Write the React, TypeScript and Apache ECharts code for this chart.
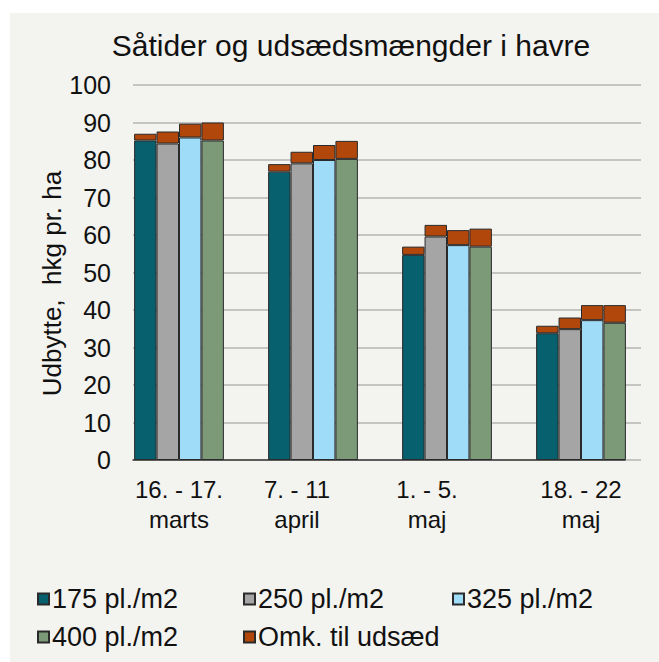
import React, { useEffect, useRef } from "react";
import * as echarts from "echarts";

const categories = ["16. - 17.\nmarts", "7. - 11\napril", "1. - 5.\nmaj", "18. - 22\nmaj"];
const seriesNames = ["175 pl./m2", "250 pl./m2", "325 pl./m2", "400 pl./m2"];
const costName = "Omk. til udsæd";
const yield175 = [85.2, 76.9, 54.7, 33.8];
const yield250 = [84.4, 79.1, 59.6, 34.9];
const yield325 = [86.0, 80.0, 57.3, 37.3];
const yield400 = [85.2, 80.3, 56.9, 36.6];
const cost175 = [1.8, 2.0, 2.2, 2.0];
const cost250 = [3.2, 3.1, 3.1, 3.1];
const cost325 = [3.7, 4.0, 4.0, 4.0];
const cost400 = [4.8, 4.8, 4.8, 4.7];
const yTicks = [0, 100, 10];

const FONT = "'Liberation Sans', Arial, sans-serif";
const colors = ["#07606e", "#a5a5a5", "#9fdcf7", "#7c9a78"];
const costColor = "#b2470c";
const labelShift = [0, 16, 20, 0];
const legendSlots = [
  { left: 37, top: 585 },
  { left: 243, top: 585 },
  { left: 452, top: 585 },
  { left: 37, top: 623 },
  { left: 243, top: 623 },
];

export default function App() {
  const ref = useRef<HTMLDivElement>(null);
  useEffect(() => {
    if (!ref.current) return;
    const chart = echarts.init(ref.current, null, { renderer: "svg" });
    const yields = [yield175, yield250, yield325, yield400];
    const costs = [cost175, cost250, cost325, cost400];
    const series: any[] = [];
    yields.forEach((vals, i) => {
      series.push({
        type: "bar",
        name: seriesNames[i],
        stack: "s" + i,
        xAxisIndex: 0,
        yAxisIndex: 0,
        data: vals,
        barGap: "0%",
        barCategoryGap: "33%",
        itemStyle: { color: colors[i], borderColor: "#2a2a2a", borderWidth: 1 },
      });
      series.push({
        type: "bar",
        name: costName,
        stack: "s" + i,
        xAxisIndex: 0,
        yAxisIndex: 0,
        data: costs[i],
        barGap: "0%",
        barCategoryGap: "33%",
        itemStyle: { color: costColor, borderColor: "#2a2a2a", borderWidth: 1 },
      });
    });
    const rich: any = {};
    labelShift.forEach((s, i) => {
      rich["s" + i] = {
        fontFamily: FONT,
        fontSize: 24,
        color: "#111",
        lineHeight: 30,
        padding: [0, s * 2, 0, 0],
      };
    });
    const legendNames = [...seriesNames, costName];
    const legends = legendNames.map((n, i) => ({
      data: [n],
      left: legendSlots[i].left,
      top: legendSlots[i].top,
      padding: 0,
      itemWidth: 11,
      itemHeight: 11,
      itemGap: 4,
      icon: "rect",
      textStyle: { fontFamily: FONT, fontSize: 27, lineHeight: 28, color: "#111", padding: [0, 0, 0, -2] },
    }));
    const option: any = {
      animation: false,
      backgroundColor: "#ffffff",
      graphic: [
        {
          type: "rect",
          shape: { x: 10, y: 13, width: 649, height: 649 },
          style: { fill: "#f3f3ef" },
          z: -100,
          silent: true,
        },
      ],
      title: {
        text: "Såtider og udsædsmængder i havre",
        left: 346,
        top: 25,
        textAlign: "center",
        textStyle: { fontFamily: FONT, fontSize: 30, fontWeight: "normal", color: "#111" },
      },
      legend: legends,
      grid: [
        { left: 112, right: 11, top: 85, bottom: 202 },
        { left: 133, right: 18, top: 85, bottom: 202 },
        { left: 133, right: 34, top: 85, bottom: 202 },
      ],
      xAxis: [
        {
          type: "category",
          gridIndex: 0,
          data: categories,
          axisLine: { show: false },
          axisTick: { show: false },
          axisLabel: {
            margin: 14,
            interval: 0,
            formatter: (value: string, index: number) =>
              value
                .split("\n")
                .map((l) => `{s${index}|${l}}`)
                .join("\n"),
            rich,
          },
        },
        { type: "value", gridIndex: 1, show: false, min: 0, max: 1 },
        {
          type: "value",
          gridIndex: 2,
          min: 0,
          max: 1,
          axisLine: { show: true, lineStyle: { color: "#3a3a3a", width: 1.5 } },
          axisTick: { show: false },
          axisLabel: { show: false },
          splitLine: { show: false },
        },
      ],
      yAxis: [
        {
          type: "value",
          gridIndex: 0,
          min: yTicks[0],
          max: yTicks[1],
          interval: yTicks[2],
          show: false,
        },
        {
          type: "value",
          gridIndex: 1,
          min: yTicks[0],
          max: yTicks[1],
          interval: yTicks[2],
          name: "Udbytte,  hkg pr. ha",
          nameLocation: "middle",
          nameGap: 68,
          nameMoveOverlap: false,
          nameTextStyle: { fontFamily: FONT, fontSize: 26, color: "#111", padding: [0, 22, 0, 0] },
          axisLine: { show: false },
          axisTick: { show: false },
          axisLabel: { margin: 22, fontFamily: FONT, fontSize: 25, color: "#111" },
          splitLine: { show: true, lineStyle: { color: "#b4b4b4", width: 1.5 } },
        },
        {
          type: "value",
          gridIndex: 2,
          min: 0,
          max: 100,
          show: false,
        },
      ],
      series,
    };
    chart.setOption(option);
    return () => chart.dispose();
  }, []);
  return (
    <div style={{ position: "absolute", left: 0, top: 0, width: 659, height: 662, background: "#fff" }}>
      <div ref={ref} style={{ width: 659, height: 662 }} />
    </div>
  );
}
